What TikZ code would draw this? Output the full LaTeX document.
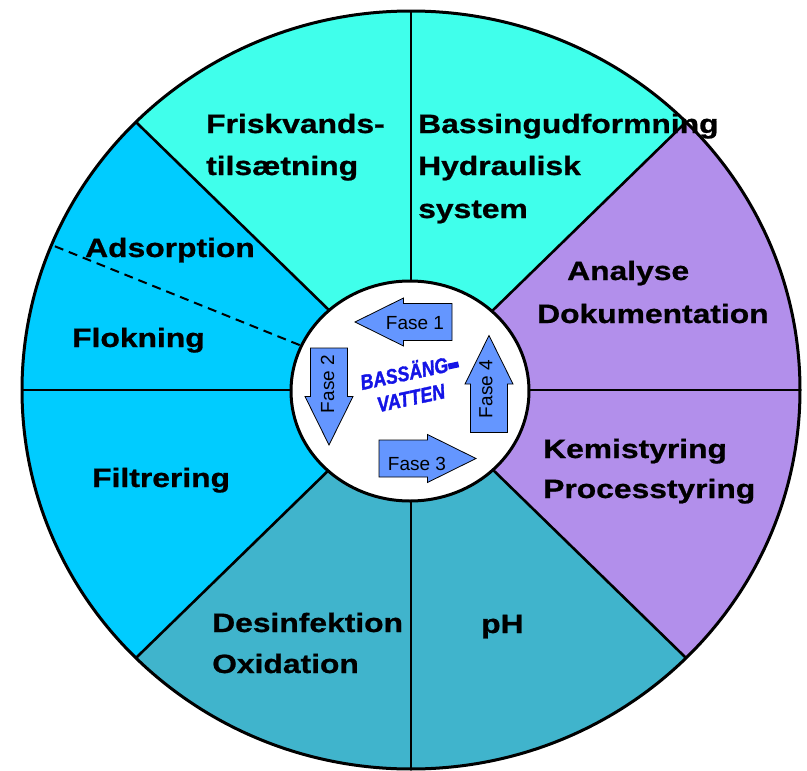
\documentclass[tikz,border=0pt]{standalone}
\usepackage{fontspec}
\newfontfamily\lblfont{Liberation Sans}[FakeStretch=1.2, FakeBold=0.8]
\newfontfamily\fasefont{Liberation Sans}
\newfontfamily\midtfont{Liberation Sans}[FakeStretch=0.85, FakeBold=1.5]
\usetikzlibrary{calc}

\definecolor{aqua}{RGB}{64,255,235}
\definecolor{himmel}{RGB}{0,204,255}
\definecolor{lavendel}{RGB}{178,143,235}
\definecolor{petrol}{RGB}{64,180,204}
\definecolor{pilblaa}{RGB}{100,150,255}
\definecolor{tekstblaa}{RGB}{20,20,230}

\tikzset{
  lbl/.style={anchor=base west, inner sep=0pt, font=\lblfont\bfseries\fontsize{26.5}{30}\selectfont},
  faselbl/.style={inner sep=0pt, font=\fasefont\fontsize{19}{22}\selectfont},
  midt/.style={inner sep=0pt, rotate=12, text=tekstblaa, font=\midtfont\bfseries\itshape\fontsize{21}{24}\selectfont},
  spoke/.style={line width=2.6pt},
  pil/.style={draw, line width=0.8pt, fill=pilblaa},
  fasepil/.pic={
    \path[pil] (-48.5,-18.5) -- (0,-18.5) -- (0,-24) -- (48.5,0) -- (0,24) -- (0,18.5) -- (-48.5,18.5) -- cycle;
  }
}

\begin{document}
\begin{tikzpicture}[x=1pt, y=1pt]
    \fill[white] (0,0) rectangle (807,-771);
    \useasboundingbox (0,0) rectangle (807,-771);

    \coordinate (O) at (411,-390);

    % sektorer
    \fill[lavendel] (O) -- ++(-45:389 and 379) arc[start angle=-45, end angle=45, x radius=389, y radius=379] -- cycle;
    \fill[aqua] (O) -- ++(45:389 and 379) arc[start angle=45, end angle=135, x radius=389, y radius=379] -- cycle;
    \fill[himmel] (O) -- ++(135:389 and 379) arc[start angle=135, end angle=225, x radius=389, y radius=379] -- cycle;
    \fill[petrol] (O) -- ++(225:389 and 379) arc[start angle=225, end angle=315, x radius=389, y radius=379] -- cycle;

    \foreach \a in {0,45,...,315} {
        \draw[spoke] (O) -- ++(\a:389 and 379);
    };
    \draw[line width=2pt, dash pattern=on 9pt off 6pt] (O) -- ++(157.5:389 and 379);

    \draw[line width=3pt] (O) ellipse[x radius=389, y radius=379];
    \draw[line width=3pt, fill=white] (410,-391) ellipse[x radius=119, y radius=110];

    % faser
    \pic[rotate=180] at (403.5,-322) {fasepil};
    \pic[rotate=-90] at (329,-396.5) {fasepil};
    \pic at (427.5,-458.5) {fasepil};
    \pic[rotate=90] at (489,-384) {fasepil};

    \node[faselbl] (fase1) at (415,-323.5) {Fase 1};
    \node[faselbl, rotate=90] (fase2) at (327.5,-384) {Fase 2};
    \node[faselbl] (fase3) at (417,-463.5) {Fase 3};
    \node[faselbl, rotate=90] (fase4) at (486,-389) {Fase 4};

    \node[midt] (bassang) at (409,-371) {BASSÄNG\rule[0.1em]{0.5em}{0.28em}};
    \node[midt] (vatten) at (411,-398) {VATTEN};

    % tekster
    \node[lbl] (frisk1) at (206,-133) {Friskvands-};
    \node[lbl] (frisk2) at (206,-175) {tilsætning};
    \node[lbl] (bassin1) at (418,-133) {Bassingudformning};
    \node[lbl] (bassin2) at (418,-175) {Hydraulisk};
    \node[lbl] (bassin3) at (418,-218) {system};
    \node[lbl] (adsorp) at (85,-257) {Adsorption};
    \node[lbl] (flok) at (72,-347) {Flokning};
    \node[lbl] (analyse) at (567,-280) {Analyse};
    \node[lbl] (dokum) at (537,-323) {Dokumentation};
    \node[lbl] (filter) at (92,-487) {Filtrering};
    \node[lbl] (kemi) at (543,-458) {Kemistyring};
    \node[lbl] (proces) at (543,-498) {Processtyring};
    \node[lbl] (desinf) at (212,-632) {Desinfektion};
    \node[lbl] (oxid) at (212,-673) {Oxidation};
    \node[lbl] (ph) at (481,-633) {pH};
\end{tikzpicture}
\end{document}
